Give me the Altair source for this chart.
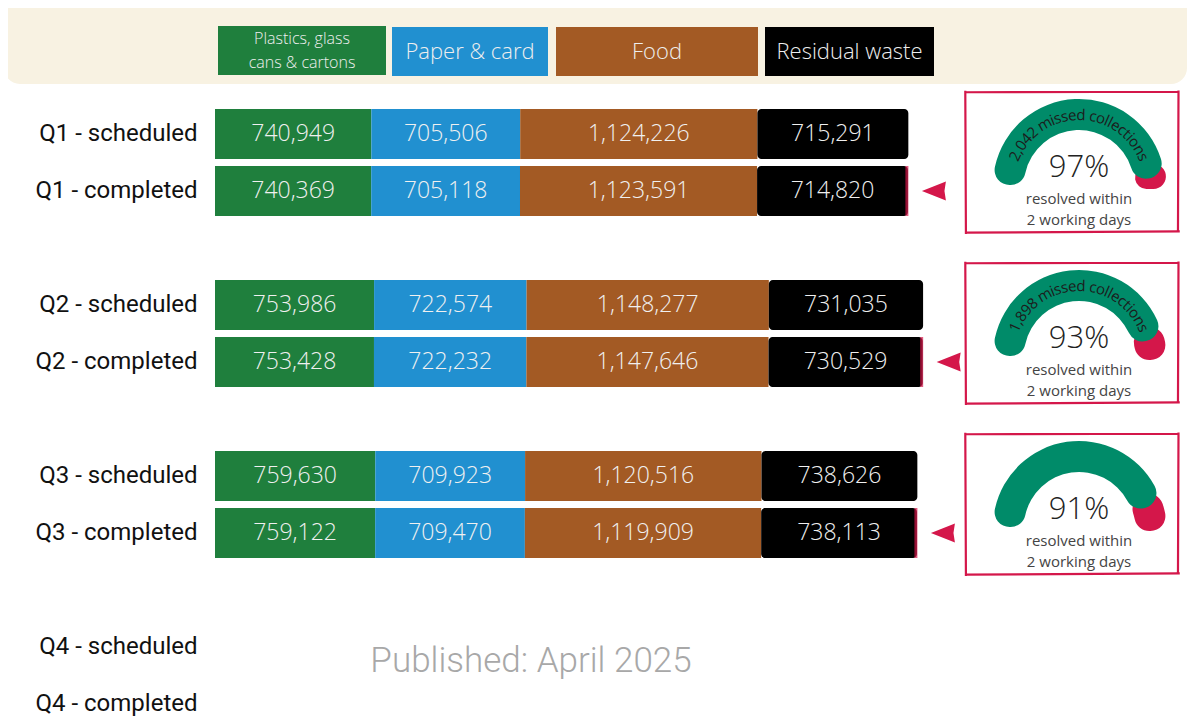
import math
import altair as alt
import pandas as pd

# ---------------- data ----------------
rows = ["Q1 - scheduled", "Q1 - completed", "Q2 - scheduled", "Q2 - completed",
        "Q3 - scheduled", "Q3 - completed", "Q4 - scheduled", "Q4 - completed"]
categories = ["Plastics, glass cans & cartons", "Paper & card", "Food", "Residual waste"]
plastics = [740949, 740369, 753986, 753428, 759630, 759122]
paper = [705506, 705118, 722574, 722232, 709923, 709470]
food = [1124226, 1123591, 1148277, 1147646, 1120516, 1119909]
residual = [715291, 714820, 731035, 730529, 738626, 738113]
gauge_rows = ["Q1 - completed", "Q2 - completed", "Q3 - completed"]
resolved_pct = [97, 93, 91]
missed = [2042, 1898, None]

colors = ["#1f7f3d", "#2190d0", "#a35a24", "#000000"]
GREEN_G = "#008b69"
CRIMSON = "#d4174a"

# ---------------- tables ----------------
series = [plastics, paper, food, residual]
seg = []
totals = []
for i in range(len(plastics)):
    start = 0
    for c, vals in zip(categories, series):
        v = vals[i]
        seg.append(dict(row=rows[i], cat=c, start=start, end=start + v,
                        mid=start + v / 2, label=f"{v:,}"))
        start += v
    totals.append(dict(row=rows[i], total=start))
seg_df = pd.DataFrame(seg)
tot_df = pd.DataFrame([t for t in totals if "completed" in t["row"]])

g_df = pd.DataFrame(dict(crow=gauge_rows, pct=resolved_pct))
g_df["zero"] = 0
g_df["hundred"] = 100
g_df["red0"] = g_df["pct"] - 8
g_df["plabel"] = g_df["pct"].astype(str) + "%"

# character advance widths (em) for curved label
W = {"0": .572, "1": .572, "2": .572, "3": .572, "4": .572, "5": .572, "6": .572,
     "7": .572, "8": .572, "9": .572, ",": .258, " ": .26, "m": .882, "i": .258,
     "s": .479, "e": .561, "d": .613, "c": .48, "o": .601, "l": .258, "t": .361, "n": .613}
CURVE_SIZE = 15
CURVE_R = 70
chars = []
for crow, m in zip(gauge_rows, missed):
    if m is None:
        continue
    txt = f"{m:,} missed collections"
    widths = [W.get(ch, .55) * CURVE_SIZE for ch in txt]
    total = sum(widths)
    acc = 0
    for ch, w in zip(txt, widths):
        c = acc + w / 2 - total / 2
        acc += w
        if ch == " ":
            continue
        ang = math.degrees(c / CURVE_R)
        chars.append(dict(crow=crow, ch=ch, tp=(ang + 90) / 1.8, ang=ang % 360))
ch_df = pd.DataFrame(chars)

# ---------------- scales ----------------
y_domain = [rows[0], rows[1], " ", rows[2], rows[3], "  ", rows[4], rows[5], "   ", rows[6], rows[7]]
ysc = alt.Scale(domain=y_domain, range=[97.5, 724.5], paddingInner=7 / 57, paddingOuter=3.5 / 57)
yax = alt.Axis(orient="left", offset=-207, labelFont="Roboto", labelFontSize=24,
               labelColor="#111111", labelPadding=18, ticks=False, domain=False,
               grid=False, title=None, labelLimit=400)
XMAX = 3400000
xsc = alt.Scale(domain=[0, XMAX], range=[207, 207 + XMAX * 0.000211], nice=False, zero=False)
tsc = alt.Scale(domain=[0, 100], range=[-math.pi / 2, math.pi / 2])

def Y(field):
    return alt.Y(field, type="nominal", scale=ysc, axis=yax)

def X(field):
    return alt.X(field, type="quantitative", scale=xsc, axis=None)

one = pd.DataFrame({"a": [0]})
layers = []

# legend band
layers.append(alt.Chart(one).mark_rect(color="#f8f2e2", cornerRadius=16).encode(
    x=alt.value(-4), x2=alt.value(1179), y=alt.value(-20), y2=alt.value(76)))

# legend boxes
leg_boxes = [(210, 378, 18, 67), (384, 540, 19, 68), (548, 750, 19, 68), (757, 926, 19, 68)]
for (x0, x1, y0, y1), col in zip(leg_boxes, colors):
    layers.append(alt.Chart(one).mark_rect(color=col).encode(
        x=alt.value(x0), x2=alt.value(x1), y=alt.value(y0), y2=alt.value(y1)))
leg_txt = alt.Chart(one).mark_text(font="Open Sans", fontWeight=300, color="#eeeeee")
layers.append(leg_txt.encode(x=alt.value(294), y=alt.value(31), text=alt.value("Plastics, glass"),
                             size=alt.value(16)))
layers.append(leg_txt.encode(x=alt.value(294), y=alt.value(55), text=alt.value("cans & cartons"),
                             size=alt.value(16)))
for (x0, x1, y0, y1), name in zip(leg_boxes[1:], categories[1:]):
    layers.append(leg_txt.encode(x=alt.value((x0 + x1) / 2), y=alt.value(44),
                                 text=alt.value(name), size=alt.value(22)))

color_enc = alt.Color("cat:N", scale=alt.Scale(domain=categories, range=colors), legend=None)

# bars
layers.append(alt.Chart(seg_df[seg_df.cat != "Residual waste"]).mark_bar().encode(
    x=X("start"), x2="end", y=Y("row"), color=color_enc))
layers.append(alt.Chart(seg_df[seg_df.cat == "Residual waste"]).mark_bar(cornerRadiusEnd=4).encode(
    x=X("start"), x2="end", y=Y("row"), color=color_enc))
layers.append(alt.Chart(seg_df).mark_text(font="Open Sans", fontWeight=300, fontSize=23,
                                          color="#f0f0f0").encode(
    x=X("mid"), y=Y("row"), text="label:N"))

# red edge + arrows at completed bars
layers.append(alt.Chart(tot_df).mark_tick(color=CRIMSON, thickness=3, size=50, xOffset=-1).encode(
    x=X("total"), y=Y("row")))
layers.append(alt.Chart(tot_df).mark_point(
    shape="M-1,0L1,-0.8L0.88,0L1,0.8Z", size=576, filled=True, color=CRIMSON, opacity=1,
    xOffset=26).encode(x=X("total"), y=Y("row")))

# gauge frames (hand-drawn look)
frame = ("M-1.01,-0.655L1.005,-0.66M1.0,-0.672L0.995,0.66M1.012,0.652L-1.0,0.664"
         "M-0.996,0.676L-1.002,-0.668")
layers.append(alt.Chart(g_df).mark_point(
    shape=frame, size=213 * 213, filled=False, stroke=CRIMSON, strokeWidth=2.2, opacity=1,
    yOffset=-29).encode(x=alt.value(1064), y=Y("crow")))

GX = 1071
# gauge arcs
layers.append(alt.Chart(g_df).mark_arc(color=CRIMSON, cornerRadius=15, xOffset=2, yOffset=-2).encode(
    x=alt.value(GX), y=Y("crow"),
    theta=alt.Theta("red0:Q", scale=tsc, stack=None), theta2="hundred",
    radius=alt.value(86), radius2=alt.value(55)))
layers.append(alt.Chart(g_df).mark_arc(color=GREEN_G, cornerRadius=15, yOffset=-6).encode(
    x=alt.value(GX), y=Y("crow"),
    theta=alt.Theta("zero:Q", scale=tsc, stack=None), theta2="pct",
    radius=alt.value(86), radius2=alt.value(55)))
layers.append(alt.Chart(ch_df).mark_text(font="Open Sans", fontSize=CURVE_SIZE, color="#1c1c1c",
                                         align="center", baseline="middle", yOffset=-6).encode(
    x=alt.value(GX), y=Y("crow"), theta=alt.Theta("tp:Q", scale=tsc),
    radius=alt.value(CURVE_R), angle=alt.Angle("ang:Q", scale=None), text="ch:N"))
layers.append(alt.Chart(g_df).mark_text(font="Open Sans", fontWeight=300, fontSize=31,
                                        color="#222222", yOffset=-23).encode(
    x=alt.value(GX), y=Y("crow"), text="plabel:N"))
layers.append(alt.Chart(g_df).mark_text(font="Open Sans", fontSize=15, color="#444444",
                                        yOffset=8).encode(
    x=alt.value(GX), y=Y("crow"), text=alt.value("resolved within")))
layers.append(alt.Chart(g_df).mark_text(font="Open Sans", fontSize=15, color="#444444",
                                        yOffset=29).encode(
    x=alt.value(GX), y=Y("crow"), text=alt.value("2 working days")))

# published note
layers.append(alt.Chart(one).mark_text(font="Roboto", fontWeight=300, fontSize=35,
                                       color="#a8a8a8").encode(
    x=alt.value(523), y=alt.value(653), text=alt.value("Published: April 2025")))

chart = alt.layer(*layers).properties(
    width=1179, height=712, padding=0, autosize=alt.AutoSizeParams(type="none"),
    background="white"
).configure_view(stroke=None)

chart.save("out.html", embed_options={"renderer": "svg", "actions": False})
